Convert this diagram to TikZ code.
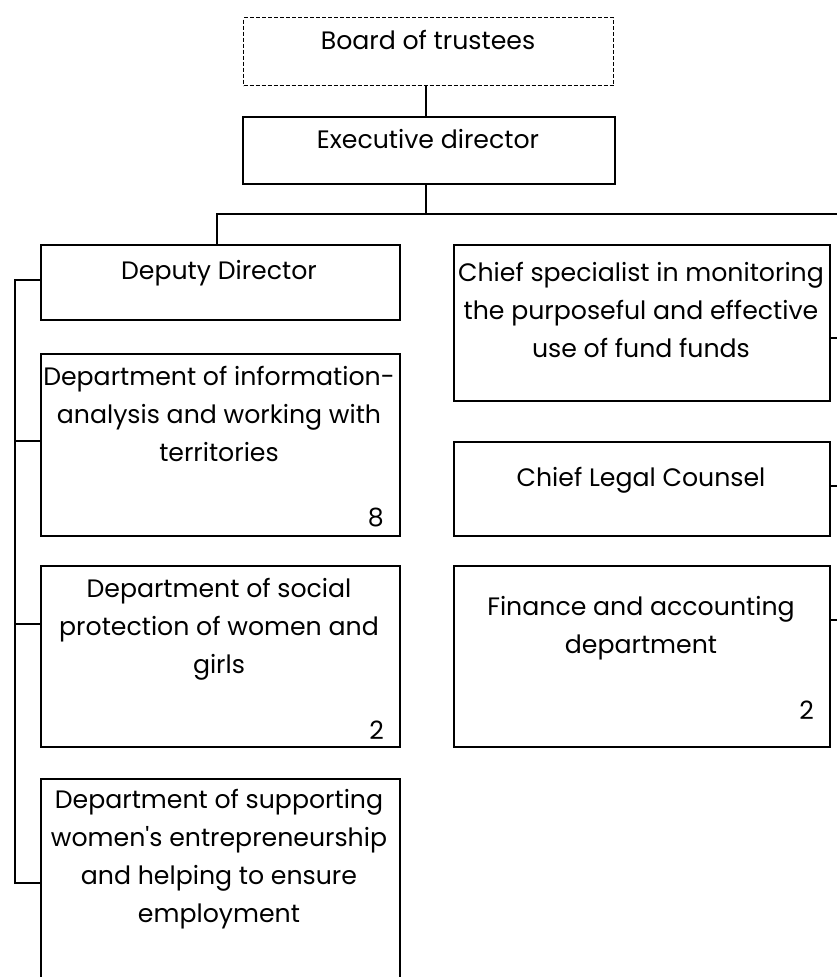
\documentclass[tikz,border=0pt]{standalone}
\usepackage{fontspec}
\setmainfont{Poppins}
\usetikzlibrary{positioning}

\begin{document}
\begin{tikzpicture}[
    x=1pt, y=-1pt,
    unit/.style={rectangle, draw, line width=2pt, anchor=north west, inner sep=0pt},
    board/.style={rectangle, draw, line width=1.4pt, dash pattern=on 4pt off 2pt,
        anchor=north west, inner sep=0pt},
    caption/.style={align=center, anchor=north, inner sep=0pt, yshift=17pt,
        font=\fontsize{25.2}{38}\selectfont},
    count/.style={anchor=base east, inner sep=0pt, font=\fontsize{25.2}{38}\selectfont},
    link/.style={line width=2pt}
]
\useasboundingbox (0,0) rectangle (837,977);
\clip (0,0) rectangle (837,977);

% top of the chart
\node (Board) [board, minimum width=370pt, minimum height=68pt] at (243,17) {};
\node (Board-t) [caption] at (428,40) {\strut Board of trustees};
\node (Exec) [unit, minimum width=372pt, minimum height=67pt] at (242,116) {};
\node (Exec-t) [caption] at (428,139) {\strut Executive director};

% left column
\node (Deputy) [unit, minimum width=359pt, minimum height=75pt] at (40,244) {};
\node (Deputy-t) [caption] at (219,270) {\strut Deputy Director};
\node (Info) [unit, minimum width=359pt, minimum height=182pt] at (40,353) {};
\node (Info-t) [caption] at (219,376) {\strut Department of information-\\analysis and working with\\territories};
\node (Info-n) [count] at (384,526) {8};
\node (Social) [unit, minimum width=359pt, minimum height=181pt] at (40,565) {};
\node (Social-t) [caption] at (219,588) {\strut Department of social\\protection of women and\\girls};
\node (Social-n) [count] at (384,739) {2};
\node (Women) [unit, minimum width=359pt, minimum height=240pt] at (40,778) {};
\node (Women-t) [caption] at (219,799) {\strut Department of supporting\\women\textquotesingle s entrepreneurship\\and helping to ensure\\employment};

% right column
\node (Monitor) [unit, minimum width=376pt, minimum height=156pt] at (453,244) {};
\node (Monitor-t) [caption] at (641,272) {\strut Chief specialist in monitoring\\the purposeful and effective\\use of fund funds};
\node (Legal) [unit, minimum width=376pt, minimum height=94pt] at (453,441) {};
\node (Legal-t) [caption] at (641,477) {\strut Chief Legal Counsel};
\node (Finance) [unit, minimum width=376pt, minimum height=181pt] at (453,565) {};
\node (Finance-t) [caption] at (641,606) {\strut Finance and accounting\\department};
\node (Finance-n) [count] at (814,719) {2};

% bus lines
\coordinate (Fork) at (426,214);
\coordinate (LeftBus) at (15,280);
\coordinate (RightBus) at (850,214);

\draw[link] (Board.south -| Fork) -- (Exec.north -| Fork);
\draw[link] (Exec.south -| Fork) -- (Fork);
\draw[link] (Deputy.north -| 217,0) |- (RightBus);
\draw[link] (Deputy.west |- LeftBus) -- (LeftBus) |- (Women.west |- 0,883);
\draw[link] (LeftBus |- 0,441) -- (Info.west |- 0,441);
\draw[link] (LeftBus |- 0,624) -- (Social.west |- 0,624);
\draw[link] (RightBus) |- (Monitor.east |- 0,338);
\draw[link] (RightBus |- 0,486) -- (Legal.east |- 0,486);
\draw[link] (RightBus |- 0,620) -- (Finance.east |- 0,620);

\end{tikzpicture}
\end{document}
